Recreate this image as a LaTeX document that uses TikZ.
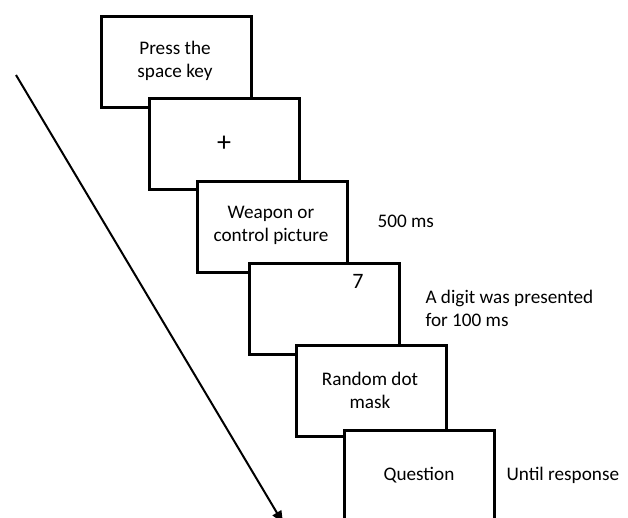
\documentclass[tikz,border=0pt]{standalone}
\usepackage{fontspec}
\setmainfont{Carlito}
\usetikzlibrary{arrows.meta}
\begin{document}
\begin{tikzpicture}[x=1pt,y=-1pt,
  screen/.style={draw=black, fill=white, line width=2.8pt, minimum width=150pt, minimum height=91pt, inner sep=0pt, anchor=north west},
  lbl/.style={font=\fontsize{19.2}{23}\selectfont, align=center},
  side/.style={font=\fontsize{19.2}{23}\selectfont, align=left, anchor=west}]
\useasboundingbox (0,0) rectangle (628,517);
\clip (0,0) rectangle (628,517);
\coordinate (ts) at (16,75);
\coordinate (te) at (283,523);
\draw[line width=2pt, -{Triangle[length=12pt,width=10pt]}] (ts) -- (te);
\node[screen] (s1) at (100,15) {};
\node[lbl] at (175,61) {Press the\\space key};
\node[screen] (s2) at (148,97) {};
\node[font=\fontsize{28}{28}\selectfont] at (224,144) {+};
\node[screen] (s3) at (196,180) {};
\node[lbl] at (271,225) {Weapon or\\control picture};
\node[screen] (s4) at (248,262) {};
\node[font=\fontsize{22}{22}\selectfont] at (358,281) {7};
\node[screen] (s5) at (295,344) {};
\node[lbl] at (370,390) {Random dot\\mask};
\node[screen, minimum height=120pt] (s6) at (343,429) {};
\node[lbl] at (419,475) {Question};
\node[side] (t3) at (374,221) {500 ms};
\node[side] (t4) at (422,308) {A digit was presented\\for 100 ms};
\node[side] (t6) at (503,475) {Until response};
\end{tikzpicture}
\end{document}
